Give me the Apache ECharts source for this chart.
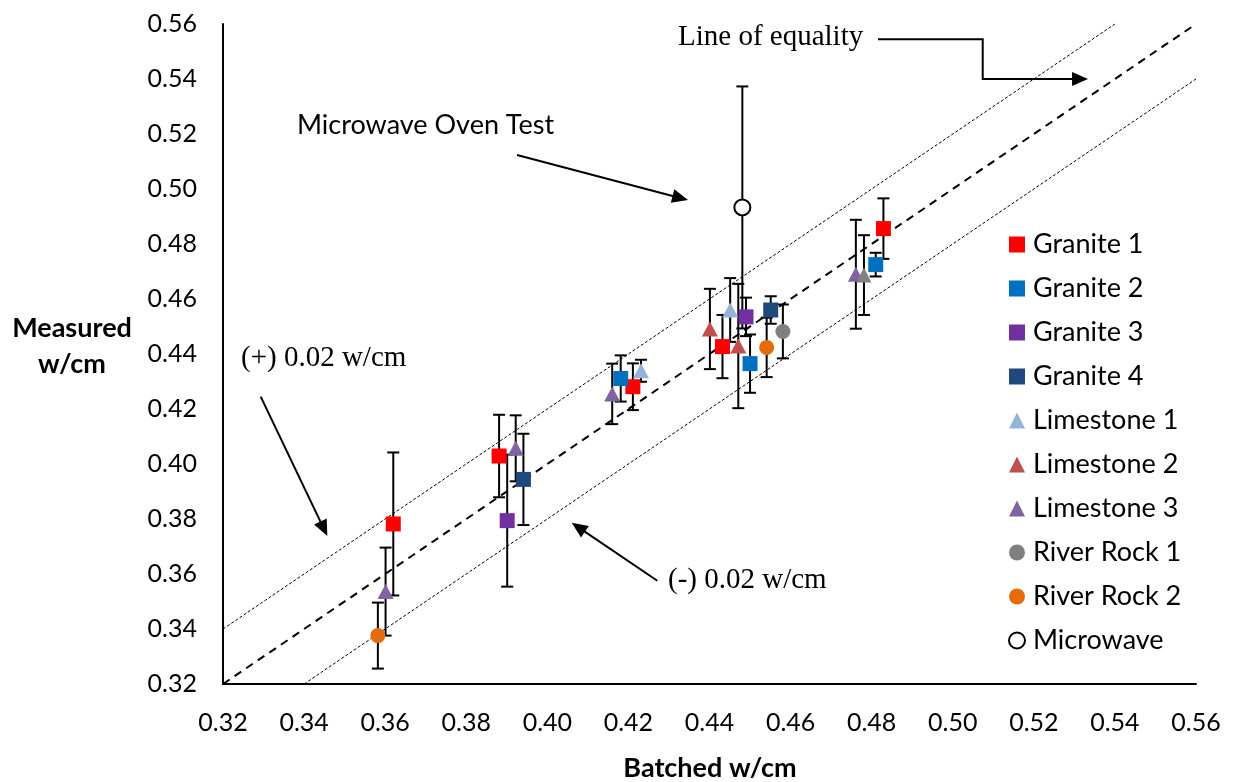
<!DOCTYPE html>
<html>
<head>
<meta charset="utf-8">
<script src="https://cdn.jsdelivr.net/npm/echarts@6/dist/echarts.min.js"></script>
<style>html,body{margin:0;padding:0;background:#fff;}#c{width:1239px;height:782px;}</style>
</head>
<body>
<div id="c"></div>
<script>
// ---- data (x = batched, y = measured, e = error half-width) ----
const granite1 = [[0.362,0.3782,0.026],[0.3881,0.4029,0.015],[0.4211,0.4281,0.0085],[0.4432,0.4427,0.0115],[0.4829,0.4856,0.011]];
const granite2 = [[0.4181,0.4311,0.0084],[0.450,0.4365,0.0106],[0.481,0.4725,0.0043]];
const granite3 = [[0.3901,0.3794,0.024],[0.449,0.4535,0.007]];
const granite4 = [[0.3941,0.3944,0.0166],[0.4551,0.456,0.005]];
const limestone1 = [[0.4231,0.4339,0.004],[0.4451,0.456,0.0116]];
const limestone2 = [[0.4401,0.4491,0.0146],[0.4471,0.4429,0.0226]];
const limestone3 = [[0.3601,0.3536,0.016],[0.3922,0.4057,0.012],[0.4160,0.4255,0.011],[0.4761,0.469,0.0198]];
const riverRock1 = [[0.4581,0.4482,0.0098],[0.4781,0.4687,0.0145]];
const riverRock2 = [[0.3582,0.3376,0.012],[0.4541,0.4424,0.0108]];
const microwave = [[0.4481,0.4933,0.044]];

const equalityLine = [[0.32,0.32],[0.56,0.56]];
const upperLine = [[0.32,0.34],[0.54,0.56]];
const lowerLine = [[0.34,0.32],[0.56,0.54]];

const arrowEquality = [[0.48157,0.55444],[0.50739,0.55444],[0.50739,0.5400],[0.53337,0.5400]];
const arrowMicrowave = [[0.39252,0.51236],[0.4347,0.4960]];
const arrowPlus = [[0.3293,0.4245],[0.34573,0.37382]];
const arrowMinus = [[0.42713,0.35756],[0.40601,0.37865]];

const xTicks = [0.32,0.56,0.02];
const yTicks = [0.32,0.56,0.02];

const SANS = 'Lato';
const SERIF = 'Liberation Serif';

const groups = [
  {name:'Granite 1', data:granite1, symbol:'rect', color:'#FF0000'},
  {name:'Granite 2', data:granite2, symbol:'rect', color:'#0070C0'},
  {name:'Granite 3', data:granite3, symbol:'rect', color:'#7030A0'},
  {name:'Granite 4', data:granite4, symbol:'rect', color:'#1F497D'},
  {name:'Limestone 1', data:limestone1, symbol:'triangle', color:'#95B3D7'},
  {name:'Limestone 2', data:limestone2, symbol:'triangle', color:'#C0504D'},
  {name:'Limestone 3', data:limestone3, symbol:'triangle', color:'#8064A2'},
  {name:'River Rock 1', data:riverRock1, symbol:'circle', color:'#808080'},
  {name:'River Rock 2', data:riverRock2, symbol:'circle', color:'#E46C0A'},
  {name:'Microwave', data:microwave, symbol:'emptyCircle', color:'#000000'}
];

const errData = [];
groups.forEach(g => g.data.forEach(d => errData.push(d)));

const series = [];
series.push({
  type:'line', data:upperLine, symbol:'none', silent:true, z:1,
  lineStyle:{color:'#000', width:1, type:[3,2]}
});
series.push({
  type:'line', data:lowerLine, symbol:'none', silent:true, z:1,
  lineStyle:{color:'#000', width:1, type:[3,2]}
});
series.push({
  type:'line', data:equalityLine, symbol:'none', silent:true, z:1,
  lineStyle:{color:'#000', width:2, type:[8,6]}
});
series.push({
  type:'custom', z:2, silent:true,
  data: errData,
  encode:{x:0, y:1},
  renderItem: function(params, api){
    const x = api.value(0), y = api.value(1), e = api.value(2);
    const t = api.coord([x, y+e]);
    const b = api.coord([x, y-e]);
    const hw = 6;
    const st = {stroke:'#000', lineWidth:2};
    return {type:'group', children:[
      {type:'line', shape:{x1:t[0], y1:t[1], x2:b[0], y2:b[1]}, style:st},
      {type:'line', shape:{x1:t[0]-hw, y1:t[1], x2:t[0]+hw, y2:t[1]}, style:st},
      {type:'line', shape:{x1:b[0]-hw, y1:b[1], x2:b[0]+hw, y2:b[1]}, style:st}
    ]};
  }
});
groups.forEach(g => {
  const isEmpty = g.symbol === 'emptyCircle';
  series.push({
    type:'scatter', name:g.name, z:5,
    symbol: g.symbol,
    symbolSize: g.symbol === 'triangle' ? [16,15] : (isEmpty ? 16 : 15),
    data: g.data.map((d, i) => {
      const item = {value:[d[0], d[1]]};
      if (g.name === 'River Rock 1' && i === 1) item.symbol = 'triangle';
      return item;
    }),
    itemStyle: isEmpty ? {color:'#000', borderWidth:1.8, opacity:1} : {color:g.color, opacity:1}
  });
});
// arrows drawn as custom series through the axes
[arrowEquality, arrowMicrowave, arrowPlus, arrowMinus].forEach(a => {
  series.push({
    type:'custom', z:4, silent:true,
    data: a, encode:{x:0, y:1},
    renderItem: function(params, api){
      if (params.dataIndex !== 0) return null;
      const pts = a.map(p => api.coord(p));
      const n = pts.length;
      const p1 = pts[n-2], p2 = pts[n-1];
      const dx = p2[0]-p1[0], dy = p2[1]-p1[1];
      const L = Math.sqrt(dx*dx+dy*dy);
      const ux = dx/L, uy = dy/L;
      const hl = 16, hw = 7;
      const bx = p2[0]-ux*hl, by = p2[1]-uy*hl;
      const linePts = pts.slice(0, n-1).concat([[bx+ux*2, by+uy*2]]);
      return {type:'group', children:[
        {type:'polyline', shape:{points:linePts}, style:{stroke:'#000', lineWidth:2, fill:null}},
        {type:'polygon', shape:{points:[[p2[0],p2[1]],[bx-uy*hw, by+ux*hw],[bx+uy*hw, by-ux*hw]]}, style:{fill:'#000'}}
      ]};
    }
  });
});

const chart = echarts.init(document.getElementById('c'));
chart.setOption({
  animation:false,
  backgroundColor:'#fff',
  grid:{left:223, right:43, top:24, bottom:98, containLabel:false},
  xAxis:{
    type:'value', min:xTicks[0], max:xTicks[1], interval:xTicks[2],
    axisLine:{show:true, onZero:false, lineStyle:{color:'#000', width:2}},
    axisTick:{show:false}, splitLine:{show:false},
    axisLabel:{color:'#000', fontFamily:SANS, fontSize:25, margin:26, formatter:v=>v.toFixed(2)}
  },
  yAxis:{
    type:'value', min:yTicks[0], max:yTicks[1], interval:yTicks[2],
    axisLine:{show:true, onZero:false, lineStyle:{color:'#000', width:2}},
    axisTick:{show:false}, splitLine:{show:false},
    axisLabel:{color:'#000', fontFamily:SANS, fontSize:25, margin:26, formatter:v=>v.toFixed(2)}
  },
  legend:{
    orient:'vertical', left:1003, top:226,
    itemWidth:16, itemHeight:16, itemGap:17,
    data: groups.map(g => g.name),
    textStyle:{color:'#000', fontFamily:SANS, fontSize:27, lineHeight:26, padding:[0,0,0,3]}
  },
  graphic:[
    {type:'text', x:72, y:328, style:{text:'Measured', fill:'#000', font:'bold 27px '+SANS, textAlign:'center', textVerticalAlign:'middle'}},
    {type:'text', x:72, y:364, style:{text:'w/cm', fill:'#000', font:'bold 27px '+SANS, textAlign:'center', textVerticalAlign:'middle'}},
    {type:'text', x:710, y:768, style:{text:'Batched w/cm', fill:'#000', font:'bold 27px '+SANS, textAlign:'center', textVerticalAlign:'middle'}},
    {type:'text', x:678, y:37, style:{text:'Line of equality', fill:'#000', font:'29px "'+SERIF+'"', textAlign:'left', textVerticalAlign:'middle'}},
    {type:'text', x:297, y:125, style:{text:'Microwave Oven Test', fill:'#000', font:'27px '+SANS, textAlign:'left', textVerticalAlign:'middle'}},
    {type:'text', x:241, y:358, style:{text:'(+) 0.02 w/cm', fill:'#000', font:'29px "'+SERIF+'"', textAlign:'left', textVerticalAlign:'middle'}},
    {type:'text', x:668, y:580, style:{text:'(-) 0.02 w/cm', fill:'#000', font:'29px "'+SERIF+'"', textAlign:'left', textVerticalAlign:'middle'}}
  ],
  series: series
});
</script>
</body>
</html>
